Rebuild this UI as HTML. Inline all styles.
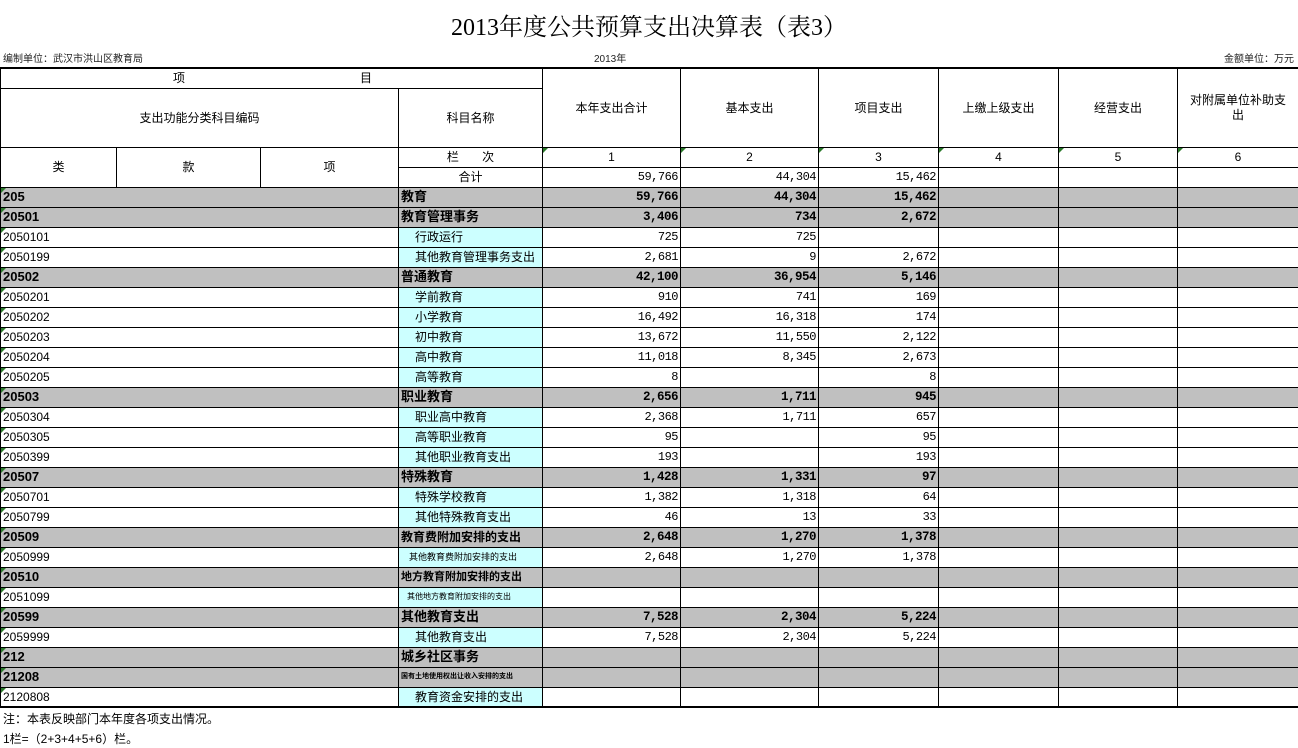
<!DOCTYPE html>
<html><head><meta charset="utf-8"><style>
*{margin:0;padding:0;box-sizing:border-box}
body{width:1298px;height:748px;background:#fff;position:relative;overflow:hidden;font-family:"Liberation Sans","Noto Sans CJK SC",sans-serif;color:#000}
.title{position:absolute;left:0;width:1298px;top:7px;text-align:center;font-family:"Liberation Serif","Noto Serif CJK SC",serif;font-size:24px}
.sm{position:absolute;top:50px;font-size:10px;color:#222}
table{position:absolute;left:0;top:67px;border-collapse:collapse;table-layout:fixed;width:1298px}
td{border:1px solid #000;font-size:12px;height:20px;padding:0 2px;white-space:nowrap;overflow:hidden;position:relative;line-height:18px}
tr.h td{text-align:center}
.n{text-align:right;font-family:"Liberation Mono","Noto Sans CJK SC",monospace;font-size:12px;letter-spacing:-0.5px}
tr.g td{background:#c0c0c0;font-weight:bold;font-size:13px}
tr.g td.n{font-size:12.5px}
.c{background:#ccffff;padding-left:16px}
.code{font-family:"Liberation Sans",sans-serif;font-size:12px}
.code::before{content:"";position:absolute;left:0;top:0;border-top:5px solid #2a7a2a;border-right:5px solid transparent}
.t::before{content:"";position:absolute;left:0;top:0;border-top:5px solid #2a7a2a;border-right:5px solid transparent}
.note{position:absolute;left:3px;font-size:12px}
.tiny{font-size:9px!important}
</style></head><body>
<div class="title">2013年度公共预算支出决算表（表3）</div>
<div class="sm" style="left:3px">编制单位：武汉市洪山区教育局</div>
<div class="sm" style="left:594px">2013年</div>
<div class="sm" style="right:4px">金额单位：万元</div>
<table>
<colgroup><col style="width:116px"><col style="width:144px"><col style="width:138px"><col style="width:144px"><col style="width:138px"><col style="width:138px"><col style="width:120px"><col style="width:120px"><col style="width:119px"><col style="width:121px"></colgroup>
<tr class="h" style="border-top:2px solid #000"><td colspan="4" style="height:20px"><span style="position:absolute;left:172px;top:0">项</span><span style="position:absolute;left:359px;top:0">目</span></td>
<td rowspan="2">本年支出合计</td><td rowspan="2">基本支出</td><td rowspan="2">项目支出</td><td rowspan="2">上缴上级支出</td><td rowspan="2">经营支出</td><td rowspan="2" style="line-height:15px">对附属单位补助支<br>出</td></tr>
<tr class="h"><td colspan="3" style="height:59px">支出功能分类科目编码</td><td>科目名称</td></tr>
<tr class="h"><td rowspan="2">类</td><td rowspan="2">款</td><td rowspan="2">项</td><td>栏&nbsp;&nbsp;&nbsp;&nbsp;&nbsp;&nbsp;&nbsp;次</td><td class="t">1</td><td class="t">2</td><td class="t">3</td><td class="t">4</td><td class="t">5</td><td class="t">6</td></tr>
<tr><td style="text-align:center">合计</td><td class="n">59,766</td><td class="n">44,304</td><td class="n">15,462</td><td></td><td></td><td></td></tr>
<tr class="g"><td colspan="3" class="code">205</td><td>教育</td><td class="n">59,766</td><td class="n">44,304</td><td class="n">15,462</td><td></td><td></td><td></td></tr>
<tr class="g"><td colspan="3" class="code">20501</td><td>教育管理事务</td><td class="n">3,406</td><td class="n">734</td><td class="n">2,672</td><td></td><td></td><td></td></tr>
<tr><td colspan="3" class="code">2050101</td><td class="c">行政运行</td><td class="n">725</td><td class="n">725</td><td class="n"></td><td></td><td></td><td></td></tr>
<tr><td colspan="3" class="code">2050199</td><td class="c">其他教育管理事务支出</td><td class="n">2,681</td><td class="n">9</td><td class="n">2,672</td><td></td><td></td><td></td></tr>
<tr class="g"><td colspan="3" class="code">20502</td><td>普通教育</td><td class="n">42,100</td><td class="n">36,954</td><td class="n">5,146</td><td></td><td></td><td></td></tr>
<tr><td colspan="3" class="code">2050201</td><td class="c">学前教育</td><td class="n">910</td><td class="n">741</td><td class="n">169</td><td></td><td></td><td></td></tr>
<tr><td colspan="3" class="code">2050202</td><td class="c">小学教育</td><td class="n">16,492</td><td class="n">16,318</td><td class="n">174</td><td></td><td></td><td></td></tr>
<tr><td colspan="3" class="code">2050203</td><td class="c">初中教育</td><td class="n">13,672</td><td class="n">11,550</td><td class="n">2,122</td><td></td><td></td><td></td></tr>
<tr><td colspan="3" class="code">2050204</td><td class="c">高中教育</td><td class="n">11,018</td><td class="n">8,345</td><td class="n">2,673</td><td></td><td></td><td></td></tr>
<tr><td colspan="3" class="code">2050205</td><td class="c">高等教育</td><td class="n">8</td><td class="n"></td><td class="n">8</td><td></td><td></td><td></td></tr>
<tr class="g"><td colspan="3" class="code">20503</td><td>职业教育</td><td class="n">2,656</td><td class="n">1,711</td><td class="n">945</td><td></td><td></td><td></td></tr>
<tr><td colspan="3" class="code">2050304</td><td class="c">职业高中教育</td><td class="n">2,368</td><td class="n">1,711</td><td class="n">657</td><td></td><td></td><td></td></tr>
<tr><td colspan="3" class="code">2050305</td><td class="c">高等职业教育</td><td class="n">95</td><td class="n"></td><td class="n">95</td><td></td><td></td><td></td></tr>
<tr><td colspan="3" class="code">2050399</td><td class="c">其他职业教育支出</td><td class="n">193</td><td class="n"></td><td class="n">193</td><td></td><td></td><td></td></tr>
<tr class="g"><td colspan="3" class="code">20507</td><td>特殊教育</td><td class="n">1,428</td><td class="n">1,331</td><td class="n">97</td><td></td><td></td><td></td></tr>
<tr><td colspan="3" class="code">2050701</td><td class="c">特殊学校教育</td><td class="n">1,382</td><td class="n">1,318</td><td class="n">64</td><td></td><td></td><td></td></tr>
<tr><td colspan="3" class="code">2050799</td><td class="c">其他特殊教育支出</td><td class="n">46</td><td class="n">13</td><td class="n">33</td><td></td><td></td><td></td></tr>
<tr class="g"><td colspan="3" class="code">20509</td><td style="font-size:12px">教育费附加安排的支出</td><td class="n">2,648</td><td class="n">1,270</td><td class="n">1,378</td><td></td><td></td><td></td></tr>
<tr><td colspan="3" class="code">2050999</td><td class="c tiny" style="padding-left:10px">其他教育费附加安排的支出</td><td class="n">2,648</td><td class="n">1,270</td><td class="n">1,378</td><td></td><td></td><td></td></tr>
<tr class="g"><td colspan="3" class="code">20510</td><td style="font-size:11px">地方教育附加安排的支出</td><td class="n"></td><td class="n"></td><td class="n"></td><td></td><td></td><td></td></tr>
<tr><td colspan="3" class="code">2051099</td><td class="c tiny" style="padding-left:8px;font-size:8px!important">其他地方教育附加安排的支出</td><td class="n"></td><td class="n"></td><td class="n"></td><td></td><td></td><td></td></tr>
<tr class="g"><td colspan="3" class="code">20599</td><td>其他教育支出</td><td class="n">7,528</td><td class="n">2,304</td><td class="n">5,224</td><td></td><td></td><td></td></tr>
<tr><td colspan="3" class="code">2059999</td><td class="c">其他教育支出</td><td class="n">7,528</td><td class="n">2,304</td><td class="n">5,224</td><td></td><td></td><td></td></tr>
<tr class="g"><td colspan="3" class="code">212</td><td>城乡社区事务</td><td class="n"></td><td class="n"></td><td class="n"></td><td></td><td></td><td></td></tr>
<tr class="g"><td colspan="3" class="code">21208</td><td style="font-size:7px!important">国有土地使用权出让收入安排的支出</td><td class="n"></td><td class="n"></td><td class="n"></td><td></td><td></td><td></td></tr>
<tr style="border-bottom:2px solid #000"><td colspan="3" class="code">2120808</td><td class="c">教育资金安排的支出</td><td class="n"></td><td class="n"></td><td class="n"></td><td></td><td></td><td></td></tr>
</table>
<div class="note" style="top:710px">注：本表反映部门本年度各项支出情况。</div>
<div class="note" style="top:730px">1栏=（2+3+4+5+6）栏。</div>
</body></html>
